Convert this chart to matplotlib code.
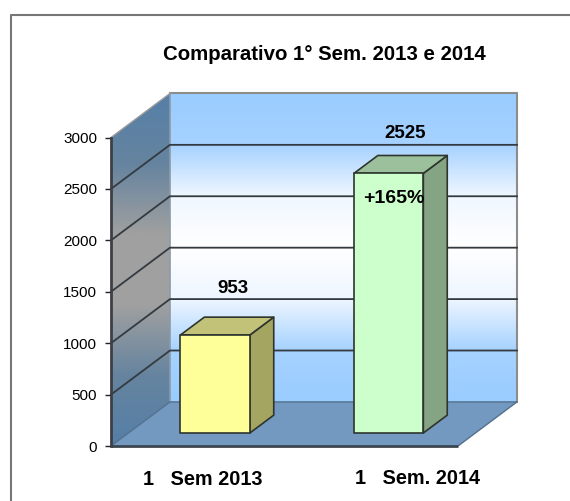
#!/usr/bin/env python3
import numpy as np
import matplotlib
matplotlib.use("Agg")
import matplotlib.pyplot as plt
from matplotlib.colors import LinearSegmentedColormap
from matplotlib.patches import Polygon

categories = ["1   Sem 2013", "1   Sem. 2014"]
values = [953, 2525]
value_labels = ["953", "2525"]
bar_colors = ["#ffff99", "#ccffcc"]
top_colors = ["#c2c278", "#9cc09c"]
side_colors = ["#a5a562", "#84a484"]
y_ticks = [0, 500, 1000, 1500, 2000, 2500, 3000]
title = "Comparativo 1° Sem. 2013 e 2014"
note = "+165%"

W, H = 570, 501
DX, DY = 0.34, 428.6  # oblique offset of the whole depth, in data units

plt.rcParams["font.family"] = ["Liberation Sans", "DejaVu Sans"]
fig = plt.figure(figsize=(W / 100, H / 100), dpi=100)
ax = fig.add_axes([111 / W, 1 - 446 / H, 347 / W, 308.5 / H])
ax.set_xlim(0, 2)
ax.set_ylim(0, 3000)
ax.patch.set_visible(False)
for s in ["top", "right", "bottom", "left"]:
    ax.spines[s].set_visible(False)


def pt(x, y, d=0.0):
    return (x + DX * d, y + DY * d)


def poly(points, **kw):
    p = Polygon(points, closed=True, clip_on=False, **kw)
    ax.add_patch(p)
    return p


wall_cmap = LinearSegmentedColormap.from_list(
    "wall", ["#99ccff", "#a6d2ff", "#f0f7ff", "#ffffff", "#eef6ff", "#a6d2ff", "#99ccff"]
)
side_cmap = LinearSegmentedColormap.from_list(
    "side", ["#557fa8", "#66849f", "#a0a0a0", "#a0a0a0", "#66849f", "#557fa8"]
)
grad = np.linspace(0, 1, 256).reshape(-1, 1)

# back wall
x0, y0 = pt(0, 0, 1)
x1, y1 = pt(2, 3000, 1)
ax.imshow(grad, cmap=wall_cmap, extent=(x0, x1, y0, y1), aspect="auto", origin="upper",
          zorder=1, clip_on=False)
ax.plot([x0, x1, x1], [y1, y1, y0], color="#8c8c8c", lw=1.5, zorder=2, clip_on=False)

# side wall
side_shape = [pt(0, 0), pt(0, 0, 1), pt(0, 3000, 1), pt(0, 3000)]
im = ax.imshow(grad, cmap=side_cmap, extent=(0, DX, 0, 3000 + DY), aspect="auto",
               origin="upper", zorder=1)
im.set_clip_box(fig.bbox)
im.set_clip_path(Polygon(side_shape, closed=True, transform=ax.transData))
ax.plot([DX, DX], [DY, 3000 + DY], color="#8c9aa8", lw=1.2, zorder=2, clip_on=False)
ax.plot([0, DX], [3000, 3000 + DY], color="#9a9a9a", lw=1.0, zorder=2, clip_on=False)

# floor
poly([pt(0, 0), pt(2, 0), pt(2, 0, 1), pt(0, 0, 1)], facecolor="#7399c0", edgecolor="none", zorder=3)
ax.plot([0, DX, DX + 2, 2], [0, DY, DY, 0], color="#54708c", lw=1.0, zorder=3, clip_on=False)
ax.plot([0, 2], [0, 0], color="#3c4650", lw=2.0, zorder=3, clip_on=False, solid_capstyle="butt")

# gridlines
for t in y_ticks[1:-1]:
    xs = [pt(0, t)[0], pt(0, t, 1)[0], pt(2, t, 1)[0]]
    ys = [pt(0, t)[1], pt(0, t, 1)[1], pt(2, t, 1)[1]]
    ax.plot(xs, ys, color="#333a40", lw=1.3, zorder=2, clip_on=False)
ax.plot([0, 0], [0, 3000], color="#3c4044", lw=2.0, zorder=3, clip_on=False)

# bars
D0, D1 = 0.295, 0.70
for i, v in enumerate(values):
    l, r = i + 0.3, i + 0.7
    edge = dict(edgecolor="#2e352e", linewidth=1.2, joinstyle="round", zorder=4)
    poly([pt(r, 0, D0), pt(r, 0, D1), pt(r, v, D1), pt(r, v, D0)], facecolor=side_colors[i], **edge)
    poly([pt(l, v, D0), pt(r, v, D0), pt(r, v, D1), pt(l, v, D1)], facecolor=top_colors[i], **edge)
    poly([pt(l, 0, D0), pt(r, 0, D0), pt(r, v, D0), pt(l, v, D0)], facecolor=bar_colors[i], **edge)

ax.set_yticks(y_ticks)
ax.tick_params(axis="y", length=4, width=1.0, labelsize=11, pad=6, color="#222222")
ax.set_xticks([])

ax.text(0.703, 1488, value_labels[0], ha="center", va="baseline", fontsize=13.5, fontweight="bold", zorder=6)
ax.text(1.697, 2995, value_labels[1], ha="center", va="baseline", fontsize=13.5, fontweight="bold", zorder=6)
ax.text(1.628, 2363, note, ha="center", va="baseline", fontsize=14, fontweight="bold", zorder=6)
fig.text(203 / W, 1 - 485 / H, categories[0], ha="center", va="baseline", fontsize=14.3, fontweight="bold")
fig.text(417 / W, 1 - 484 / H, categories[1], ha="center", va="baseline", fontsize=14.3, fontweight="bold")
fig.text(324.5 / W, 1 - 60 / H, title, ha="center", va="baseline", fontsize=14.7, fontweight="bold")

# frame, only the top and left edges show in the crop
fig.add_artist(plt.Line2D([11 / W, 11 / W, 1], [0, 1 - 15 / H, 1 - 15 / H],
                          color="#777777", lw=1.5, transform=fig.transFigure))

fig.savefig("out.png", dpi=100)
